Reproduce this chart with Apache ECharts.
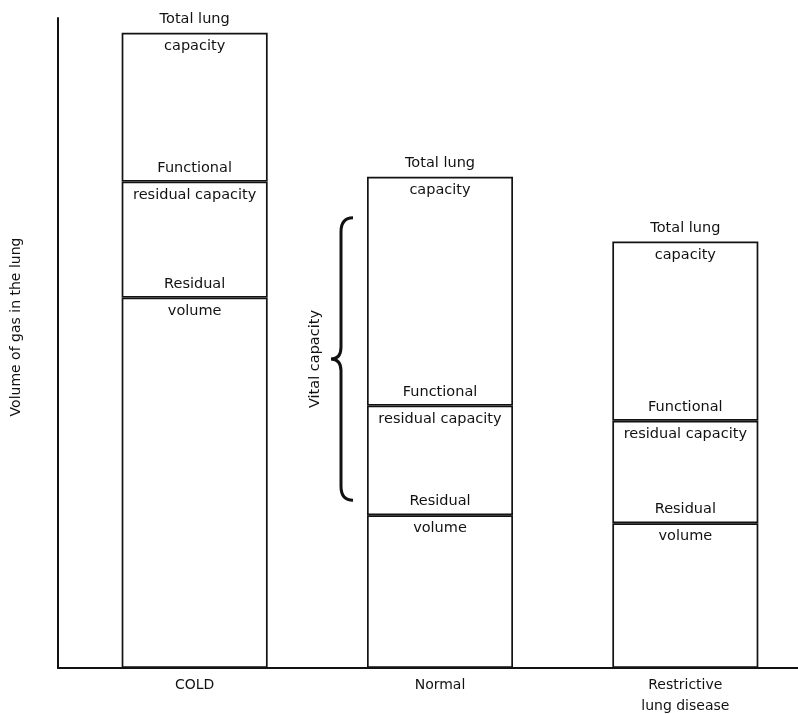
<!DOCTYPE html>
<html>
<head>
<meta charset="utf-8">
<script src="https://cdn.jsdelivr.net/npm/echarts@6/dist/echarts.min.js"></script>
<style>
  html, body { margin: 0; padding: 0; background: #fff; }
  #main { width: 798px; height: 714px; }
</style>
</head>
<body>
<div id="main"></div>
<script>
// lung volumes (litres)
var categories = ['COLD', 'Normal', 'Restrictive\nlung disease'];
var residualVolume = [4.63, 1.91, 1.81];
var functionalResidual = [6.08, 3.28, 3.09];
var totalLung = [7.94, 6.14, 5.33];

// stacked pieces
var segRV = residualVolume.slice();
var segFRC = functionalResidual.map(function (v, i) { return +(v - residualVolume[i]).toFixed(2); });
var segTLC = totalLung.map(function (v, i) { return +(v - functionalResidual[i]).toFixed(2); });

var ink = '#121212';
var font = 'DejaVu Sans';
var fs = 14.5;
var yMax = 8.125;
var halfBar = 73;

var chart = echarts.init(document.getElementById('main'), null, { renderer: 'canvas' });

function segLabel(text) {
  return {
    show: true,
    position: 'insideTop',
    distance: 6,
    formatter: text,
    color: ink,
    fontFamily: font,
    fontSize: fs
  };
}

var barStyle = { color: '#fff', borderColor: ink, borderWidth: 1.7 };

// words written just above each boundary line
var upperWords = ['Residual', 'Functional', 'Total lung'];
var boundaryRows = categories.map(function (c, i) {
  return [i, residualVolume[i], functionalResidual[i], totalLung[i]];
});

var option = {
  backgroundColor: '#fff',
  animation: false,
  grid: [
    { left: 58, right: 0, top: 18, bottom: 46, outerBoundsMode: 'none' },   // axis lines only
    { left: 72, right: -10, top: 18, bottom: 46, outerBoundsMode: 'none' }  // bars
  ],
  xAxis: [
    {
      gridIndex: 0, type: 'value', min: 0, max: 1,
      axisLine: { show: true, lineStyle: { color: ink, width: 2 } },
      axisTick: { show: false }, axisLabel: { show: false }, splitLine: { show: false }
    },
    {
      gridIndex: 1, type: 'category', data: categories,
      axisLine: { show: false }, axisTick: { show: false },
      axisLabel: {
        margin: 7, color: ink, fontFamily: font, fontSize: 14, lineHeight: 21
      }
    }
  ],
  yAxis: [
    {
      gridIndex: 0, type: 'value', min: 0, max: yMax,
      axisLine: { show: true, lineStyle: { color: ink, width: 2 } },
      axisTick: { show: false }, axisLabel: { show: false }, splitLine: { show: false },
      name: 'Volume of gas in the lung',
      nameLocation: 'middle',
      nameRotate: 90,
      nameGap: 35,
      nameTextStyle: { color: ink, fontFamily: font, fontSize: 14, padding: [0, 0, 0, 32] }
    },
    {
      gridIndex: 1, type: 'value', min: 0, max: yMax, show: false
    }
  ],
  series: [
    {
      name: 'Residual volume', type: 'bar', stack: 'lung',
      xAxisIndex: 1, yAxisIndex: 1, barWidth: halfBar * 2,
      itemStyle: barStyle, label: segLabel('volume'), data: segRV
    },
    {
      name: 'Functional residual capacity', type: 'bar', stack: 'lung',
      xAxisIndex: 1, yAxisIndex: 1, barWidth: halfBar * 2,
      itemStyle: barStyle, label: segLabel('residual capacity'), data: segFRC
    },
    {
      name: 'Total lung capacity', type: 'bar', stack: 'lung',
      xAxisIndex: 1, yAxisIndex: 1, barWidth: halfBar * 2,
      itemStyle: barStyle, label: segLabel('capacity'), data: segTLC
    },
    {
      name: 'boundary words', type: 'custom',
      xAxisIndex: 1, yAxisIndex: 1, silent: true, z: 10,
      encode: { x: 0, y: [1, 2, 3] },
      data: boundaryRows,
      renderItem: function (params, api) {
        var kids = [];
        for (var k = 0; k < 3; k++) {
          var p = api.coord([api.value(0), api.value(k + 1)]);
          kids.push({
            type: 'text',
            x: p[0],
            y: p[1] - 6,
            style: {
              text: upperWords[k],
              fill: ink,
              font: fs + 'px "' + font + '"',
              align: 'center',
              verticalAlign: 'bottom'
            }
          });
        }
        return { type: 'group', children: kids };
      }
    },
    {
      // vital capacity brace next to the Normal bar
      name: 'Vital capacity', type: 'custom',
      xAxisIndex: 1, yAxisIndex: 1, silent: true, z: 10,
      encode: { x: 0, y: [1, 2] },
      data: [[1, residualVolume[1], totalLung[1]]],
      renderItem: function (params, api) {
        var top = api.coord([api.value(0), api.value(2)]);
        var bot = api.coord([api.value(0), api.value(1)]);
        var ex = top[0] - halfBar - 14;
        var sx = ex - 12;
        var px = ex - 22;
        var y0 = top[1] + 41;
        var y1 = bot[1] - 15;
        var ym = (y0 + y1) / 2;
        var d = 'M' + ex + ',' + y0 +
          ' Q' + sx + ',' + y0 + ' ' + sx + ',' + (y0 + 14) +
          ' L' + sx + ',' + (ym - 12) +
          ' Q' + sx + ',' + ym + ' ' + px + ',' + ym +
          ' Q' + sx + ',' + ym + ' ' + sx + ',' + (ym + 12) +
          ' L' + sx + ',' + (y1 - 14) +
          ' Q' + sx + ',' + y1 + ' ' + ex + ',' + y1;
        return {
          type: 'group',
          children: [
            {
              type: 'path',
              shape: { pathData: d },
              style: { fill: null, stroke: ink, lineWidth: 3 }
            },
            {
              type: 'text',
              x: ex - 38,
              y: ym,
              rotation: Math.PI / 2,
              style: {
                text: 'Vital capacity',
                fill: ink,
                font: fs + 'px "' + font + '"',
                align: 'center',
                verticalAlign: 'middle'
              }
            }
          ]
        };
      }
    }
  ]
};

chart.setOption(option);
</script>
</body>
</html>
